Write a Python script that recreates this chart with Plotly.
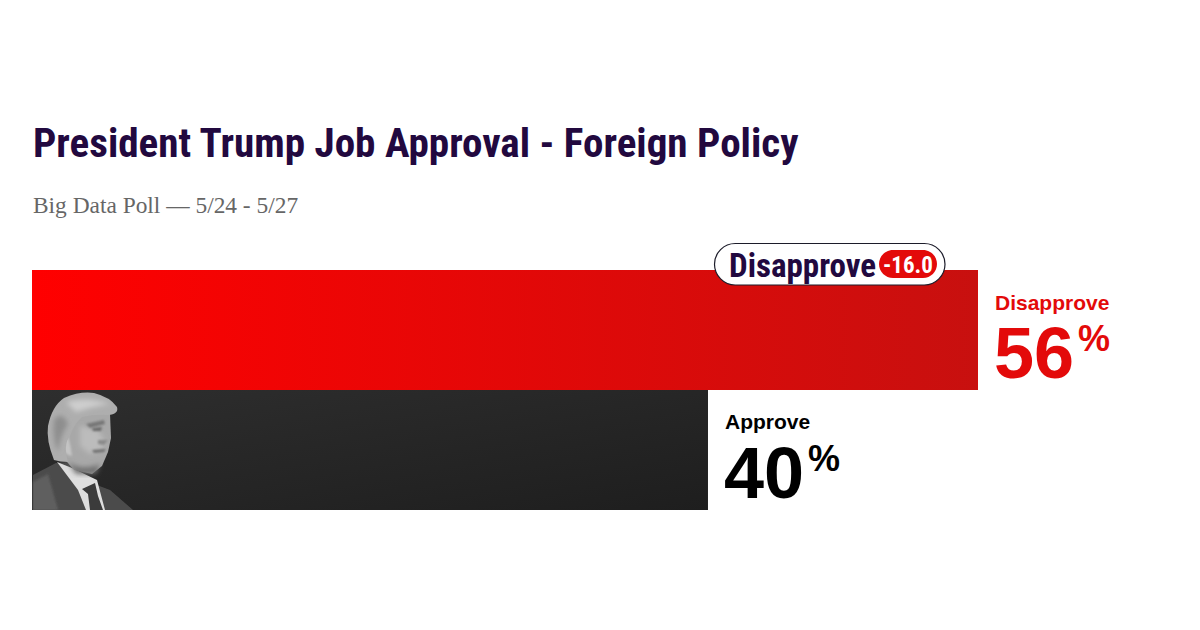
import base64

import plotly.graph_objects as go

labels = ["Disapprove", "Approve"]
values = [56, 40]
spread = -16.0
title = "President Trump Job Approval - Foreign Policy"
subtitle = "Big Data Poll — 5/24 - 5/27"

W, H = 1200, 630
NAVY = "#22093f"
RED = "#e30a0a"
NARROW = "Roboto Condensed"
SANS = "Liberation Sans"
SERIF = "Liberation Serif"
PX_PER_POINT = 16.89


def px(x):
  return x / W


def py(y):
  return 1 - y / H


def svg_uri(svg):
  return "data:image/svg+xml;base64," + base64.b64encode(svg.encode()).decode()


def gradient(c1, c2, x2=1, y2=0):
  return svg_uri(
    '<svg xmlns="http://www.w3.org/2000/svg" width="800" height="120" preserveAspectRatio="none">'
    f'<defs><linearGradient id="g" x1="0" y1="0" x2="{x2}" y2="{y2}">'
    f'<stop offset="0" stop-color="{c1}"/><stop offset="1" stop-color="{c2}"/>'
    '</linearGradient></defs><rect width="800" height="120" fill="url(#g)"/></svg>'
  )


def pill(x0, y0, x1, y1):
  # rounded rectangle path in paper coords
  r = (y1 - y0) / 2
  k = r * 0.45
  return (
    f"M {px(x0 + r)} {py(y0)} L {px(x1 - r)} {py(y0)} "
    f"C {px(x1 - k)} {py(y0)} {px(x1)} {py(y0 + k)} {px(x1)} {py(y0 + r)} "
    f"C {px(x1)} {py(y1 - k)} {px(x1 - k)} {py(y1)} {px(x1 - r)} {py(y1)} "
    f"L {px(x0 + r)} {py(y1)} "
    f"C {px(x0 + k)} {py(y1)} {px(x0)} {py(y1 - k)} {px(x0)} {py(y0 + r)} "
    f"C {px(x0)} {py(y0 + k)} {px(x0 + k)} {py(y0)} {px(x0 + r)} {py(y0)} Z"
  )


# rough greyscale portrait, drawn over the left end of the approve bar
portrait = svg_uri("""<svg xmlns="http://www.w3.org/2000/svg" viewBox="0 0 102 120" width="408" height="480">
<defs><filter id="b"><feGaussianBlur stdDeviation="0.5"/></filter>
<filter id="m" x="-30%" y="-30%" width="160%" height="160%"><feGaussianBlur stdDeviation="1.1"/></filter>
<filter id="s" x="-30%" y="-30%" width="160%" height="160%"><feGaussianBlur stdDeviation="2.4"/></filter></defs>
<g filter="url(#b)">
<path d="M1 85 L24 73 L36 72 L62 94 L78 100 L101 120 L1 120 Z" fill="#4c4c4c"/>
<path d="M1 92 L16 84 L26 120 L1 120 Z" fill="#5e5e5e" filter="url(#m)"/>
<path d="M25 72 L40 78 L65 90 L73 120 L54 120 L46 100 Z" fill="#dedede"/>
<path d="M50 99 L63 93 L66 106 L71 120 L58 120 L56 104 Z" fill="#3a3a3a"/>
<path d="M28 44 L30 66 L42 80 L60 84 L70 76 L76 62 L79 48 L78 24 L44 22 Z" fill="#a8a8a8"/>
<path d="M48 36 L66 40 L72 50 L70 60 L58 64 L48 56 Z" fill="#bcbcbc" filter="url(#s)"/>
<path d="M36 72 Q50 82 68 74 L64 84 L44 84 Z" fill="#6f6f6f" filter="url(#s)"/>
<path d="M54 34 L72 30 L73 34 L58 38 Z" fill="#777777" filter="url(#m)"/>
<path d="M60 38 L70 37 L69 41 L61 41 Z" fill="#6a6a6a" filter="url(#m)"/>
<path d="M66 50 L76 50 L72 55 L66 54 Z" fill="#8a8a8a" filter="url(#m)"/>
<path d="M60 60 L74 59 L72 62 L62 63 Z" fill="#707070" filter="url(#m)"/>
<path d="M36 46 Q29 46 30 56 Q32 65 40 66 Q39 56 36 46 Z" fill="#c4c4c4" filter="url(#m)"/>
<path d="M22 70 Q14 50 16 36 Q20 16 32 8 Q48 1 62 3 Q78 7 85 17 Q87 24 76 25 Q62 24 50 27 Q42 34 38 46 Q31 54 36 72 Q28 72 22 70 Z" fill="#aeaeae"/>
<path d="M34 12 Q54 6 78 14 Q62 16 44 22 Z" fill="#cecece" filter="url(#s)"/>
<path d="M22 30 Q30 20 36 34 Q28 46 26 62 Q20 48 22 30 Z" fill="#8e8e8e" filter="url(#s)"/>
</g></svg>""")

bar_left = 32
axis_max = (W - bar_left) / PX_PER_POINT

fig = go.Figure(
  go.Bar(
    x=values,
    y=labels,
    orientation="h",
    marker=dict(color=["#e30808", "#262626"], line_width=0),
    hoverinfo="skip",
  )
)

bar_tops = [270, 390]
bar_fills = [gradient("#ff0000", "#c8100f"), gradient("#2e2e2e", "#1e1e1e", 1, 1)]
images = [
  dict(
    source=src, xref="x", yref="paper", x=0, y=py(top), sizex=val, sizey=120 / H,
    xanchor="left", yanchor="top", sizing="stretch", layer="above",
  )
  for src, val, top in zip(bar_fills, values, bar_tops)
]
images.append(
  dict(
    source=portrait, xref="paper", yref="paper", x=px(32), y=py(390), sizex=102 / W, sizey=120 / H,
    xanchor="left", yanchor="top", sizing="stretch", layer="above",
  )
)

annotations = [
  dict(xref="paper", yref="paper", x=px(31), y=py(143), text=f"<b>{title}</b>", showarrow=False,
       xanchor="left", yanchor="middle", font=dict(family=NARROW, size=41.1, color=NAVY)),
  dict(xref="paper", yref="paper", x=px(31), y=py(205), text=subtitle, showarrow=False,
       xanchor="left", yanchor="middle", font=dict(family=SERIF, size=23.4, color="#666666")),
  dict(xref="paper", yref="paper", x=px(727), y=py(265.5), text=f"<b>{labels[0]}</b>", showarrow=False,
       xanchor="left", yanchor="middle", font=dict(family=NARROW, size=33, color=NAVY)),
  dict(xref="paper", yref="paper", x=px(908), y=py(265), text=f"<b>{spread:.1f}</b>", showarrow=False,
       xanchor="center", yanchor="middle", font=dict(family=NARROW, size=23, color="white")),
]

label_colors = [RED, "#000000"]
label_mid = [302, 422]
for lab, val, col, mid in zip(labels, values, label_colors, label_mid):
  annotations += [
    dict(xref="x", yref="paper", x=val, xshift=15, y=py(mid), text=f"<b>{lab}</b>", showarrow=False,
         xanchor="left", yanchor="middle", font=dict(family=SANS, size=21, color=col)),
    dict(xref="x", yref="paper", x=val, xshift=14, y=py(mid + 51), text=f"<b>{val}</b>", showarrow=False,
         xanchor="left", yanchor="middle", font=dict(family=SANS, size=72, color=col)),
    dict(xref="x", yref="paper", x=val, xshift=98, y=py(mid + 36), text="<b>%</b>", showarrow=False,
         xanchor="left", yanchor="middle", font=dict(family=SANS, size=36, color=col)),
  ]

fig.update_layout(
  width=W,
  height=H,
  margin=dict(l=0, r=0, t=0, b=0),
  paper_bgcolor="white",
  plot_bgcolor="white",
  showlegend=False,
  bargap=0,
  images=images,
  annotations=annotations,
  shapes=[
    dict(type="path", xref="paper", yref="paper", path=pill(714.5, 243.5, 945, 285),
         fillcolor="white", line=dict(color="#1c1c2a", width=1.2), layer="above"),
    dict(type="path", xref="paper", yref="paper", path=pill(879, 250, 937, 278),
         fillcolor=RED, line_width=0, layer="above"),
  ],
  xaxis=dict(domain=[px(bar_left), 1], range=[0, axis_max], visible=False),
  yaxis=dict(domain=[py(510), py(270)], autorange="reversed", visible=False),
)

# the page's default body margin would push the figure 8px off
fig.write_html("out.html", config=dict(displayModeBar=False), post_script="document.body.style.margin='0';")
